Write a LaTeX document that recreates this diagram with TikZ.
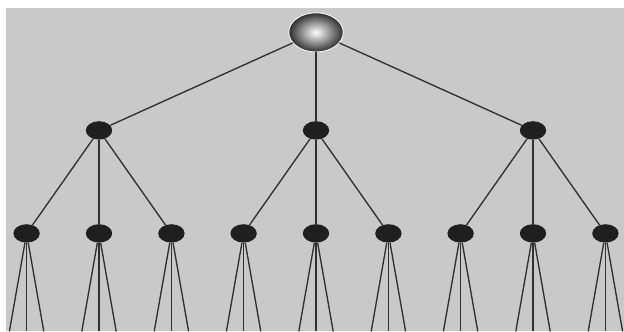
\documentclass[tikz,border=0pt]{standalone}
\usetikzlibrary{positioning, shapes.geometric}
\definecolor{bggray}{RGB}{201,201,201}
\definecolor{edgegray}{RGB}{48,48,48}

\begin{document}
\begin{tikzpicture}[on grid,
    knot/.style={ellipse, fill=black!88, minimum width=0.66cm, minimum height=0.46cm, inner sep=0pt},
    top/.style={ellipse, draw=white, line width=0.6pt, inner color=white, outer color=black!82, minimum width=1.36cm, minimum height=0.98cm, inner sep=0pt},
    link/.style={draw=edgegray, line width=0.95pt}]

    \useasboundingbox (0,0) rectangle (15.6,-8.275);
    \fill[bggray] (0.15,-0.2) rectangle (15.6,-8.275);

    % levels
    \node[top] (root) at (7.9,-0.81) {};
    \node[knot, below=2.45cm of root] (b) {};
    \node[knot, left=5.425cm of b] (a) {};
    \node[knot, right=5.425cm of b] (c) {};

    \node[knot, below=2.575cm of a] (a2) {};
    \node[knot, left=1.81cm of a2] (a1) {};
    \node[knot, right=1.81cm of a2] (a3) {};
    \node[knot, below=2.575cm of b] (b2) {};
    \node[knot, left=1.81cm of b2] (b1) {};
    \node[knot, right=1.81cm of b2] (b3) {};
    \node[knot, below=2.575cm of c] (c2) {};
    \node[knot, left=1.81cm of c2] (c1) {};
    \node[knot, right=1.81cm of c2] (c3) {};

    \draw[link] (root) -- (a);
    \draw[link] (root) -- (b);
    \draw[link] (root) -- (c);
    \draw[link] (a) -- (a1);
    \draw[link] (a) -- (a2);
    \draw[link] (a) -- (a3);
    \draw[link] (b) -- (b1);
    \draw[link] (b) -- (b2);
    \draw[link] (b) -- (b3);
    \draw[link] (c) -- (c1);
    \draw[link] (c) -- (c2);
    \draw[link] (c) -- (c3);

    % branches running off the bottom
    \foreach \n in {a1,a2,a3,b1,b2,b3,c1,c2,c3} {
        \coordinate[below left=2.45cm and 0.43cm of \n] (\n-l);
        \coordinate[below=2.45cm of \n] (\n-m);
        \coordinate[below right=2.45cm and 0.43cm of \n] (\n-r);
        \draw[link] (\n) -- (\n-l);
        \draw[link] (\n) -- (\n-m);
        \draw[link] (\n) -- (\n-r);
    }
\end{tikzpicture}
\end{document}
